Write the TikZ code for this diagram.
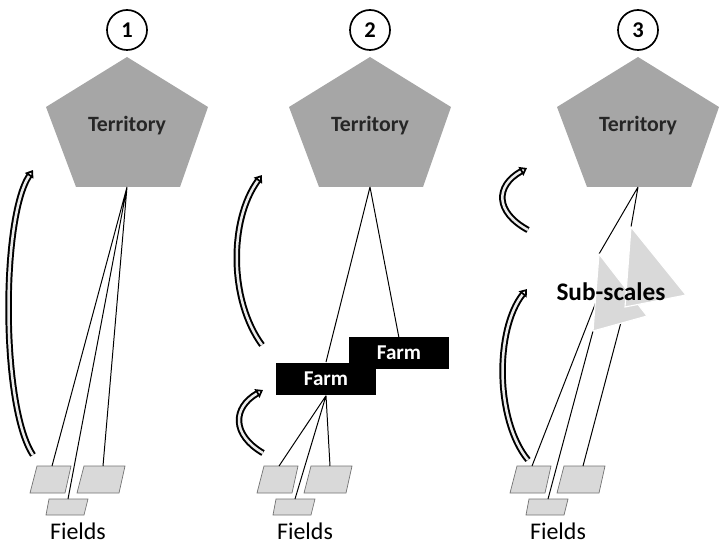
\documentclass[tikz,border=0pt]{standalone}
\usepackage{fontspec}
\setmainfont{Carlito}
\usetikzlibrary{arrows.meta}

\begin{document}
\begin{tikzpicture}[x=0.025cm,y=-0.025cm]
\tikzset{terr/.style={fill=black!35},
  field/.style={draw=black!55,fill=black!15,line width=0.5pt},
  farm/.style={fill=black,text=white,font=\bfseries\fontsize{15}{18}\selectfont,
    minimum width=2.5cm,minimum height=0.82cm,inner sep=0pt},
  num/.style={circle,draw,line width=1.2pt,fill=white,minimum size=1cm,inner sep=0pt,
    font=\bfseries\fontsize{16}{18}\selectfont},
  link/.style={line width=0.7pt},
  crv/.style={line width=1.4pt,double=black!8,double distance=1.8pt,
    -{Triangle[fill=white,length=5pt,width=7pt]}},
  sub/.style={fill=black!15,draw=white,line width=0.8pt}};
\useasboundingbox (0,0) rectangle (720,544);

% territory, number and fields of each panel
\foreach \cx/\fx/\n in {127/0/1, 370/227/2, 638/480/3} {
  \fill[terr] ({\cx},57) -- ({\cx+81},107) -- ({\cx+53},187) -- ({\cx-51},187)
    -- ({\cx-81},107) -- cycle;
  \node[font=\bfseries\fontsize{15.5}{18}\selectfont,text=black!85] (terr\n) at (\cx,126) {Territory};
  \coordinate (apex\n) at (\cx,187);
  \node[num] (num\n) at (\cx,30) {\n};
  \begin{scope}[shift={(\fx,0)}]
    \filldraw[field] (30,493) -- (37,466) -- (71,466) -- (65,493) -- cycle;
    \filldraw[field] (77,493) -- (84,466) -- (125,466) -- (119,493) -- cycle;
    \filldraw[field] (46,515) -- (49,499) -- (88,499) -- (84,515) -- cycle;
    \coordinate (fa\n) at (52,466);
    \coordinate (fc\n) at (68,499);
    \coordinate (fb\n) at (103,466);
    \node[font=\fontsize{17}{20}\selectfont] (fields\n) at (78,531) {Fields};
  \end{scope}
}

% 1
\draw[link] (apex1) -- (fa1) (apex1) -- (fc1) (apex1) -- (fb1);
\draw[crv] (33,455) .. controls (1,407) and (1,218) .. (33,170);

% 2
\draw[link] (apex2) -- (326,362) (apex2) -- (399,338);
\node[farm] (farmB) at (399,353) {Farm};
\node[farm] (farmA) at (326,379) {Farm};
\draw[link] (farmA.south) -- (fa2) (farmA.south) -- (fc2) (farmA.south) -- (fb2);
\draw[crv] (262,345) .. controls (229,300) and (229,220) .. (262,175);
\draw[crv] (263,453) .. controls (232,435) and (232,408) .. (263,390);

% 3
\coordinate (s1) at (599,254);
\coordinate (s2) at (631,227);
\coordinate (s1e) at (596,302);
\coordinate (s1b) at (593,331);
\coordinate (s2b) at (625,307);
\draw[link] (apex3) -- (s1) (apex3) -- (s2);
\draw[link] (s1e) -- (fa3) (s1b) -- (fc3) (s2b) -- (fb3);
\filldraw[sub] (s1) -- (647,316) -- (s1b) -- cycle;
\filldraw[sub] (s2) -- (686,295) -- (s2b) -- cycle;
\node[font=\bfseries\fontsize{18}{21}\selectfont] (subsc) at (611,292) {Sub-scales};
\draw[crv] (528,230) .. controls (495,212) and (495,186) .. (527,168);
\draw[crv] (528,460) .. controls (495,420) and (495,329) .. (527,289);
\end{tikzpicture}
\end{document}
